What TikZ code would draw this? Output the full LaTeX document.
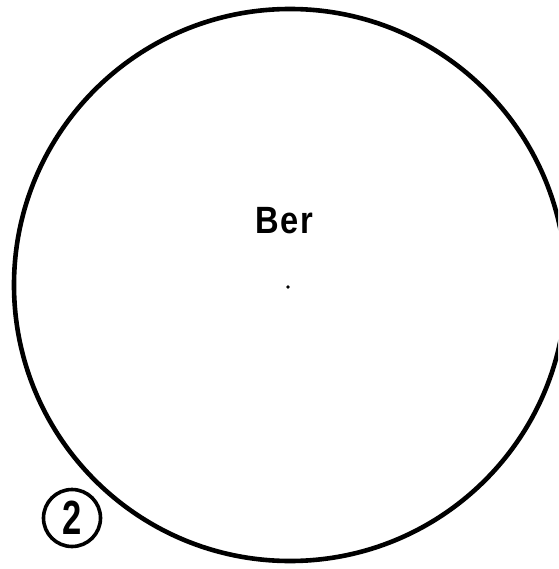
\documentclass[tikz,border=0pt]{standalone}
\usepackage{fontspec}
\setmainfont{Liberation Sans}
\begin{document}
\begin{tikzpicture}[x=1pt,y=-1pt,
  outline/.style={draw=black,line width=4.6pt},
  badge/.style={circle,draw=black,line width=3.6pt,minimum size=57pt,inner sep=0pt},
  lbl/.style={font=\bfseries\fontsize{38}{40}\selectfont,text=black}]
\useasboundingbox (0,0) rectangle (558,569);
\path[clip] (0,0) rectangle (558,569);
\node[draw=none,minimum size=0pt] (c) at (290,285) {};
\draw[outline] (c.center) circle[radius=276];
\node[lbl,xscale=0.86] (ber) at (284,221) {B\kern2pt e\kern2pt r};
\fill (c.center) ++(-2,2) circle[radius=1.8];
\node[badge] (two) at (72,518) {};
\node[lbl,font=\bfseries\fontsize{48}{50}\selectfont,xscale=0.72] (twotxt) at (two.center) {2};
\end{tikzpicture}
\end{document}
